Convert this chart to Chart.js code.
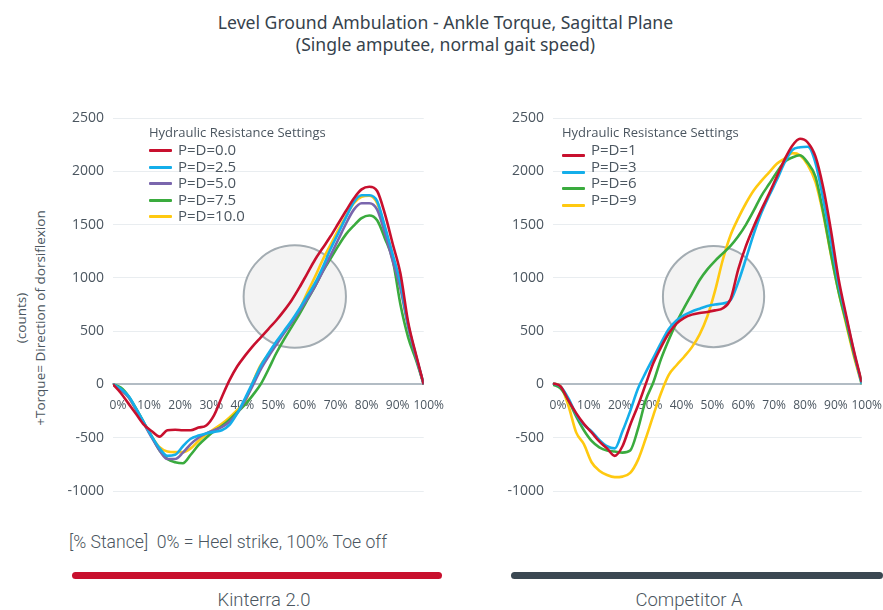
<!DOCTYPE html>
<html>
<head>
<meta charset="utf-8">
<script src="https://cdn.jsdelivr.net/npm/chart.js@4.4.1/dist/chart.umd.min.js"></script>
<style>
body { margin: 0; background: #fff; width: 883px; height: 610px; position: relative; overflow: hidden; font-family: 'Open Sans', sans-serif; color: #4b5660; }
#title { position: absolute; left: 0; width: 883px; top: 11px; text-align: center; font-family: 'Noto Sans', sans-serif; font-size: 17.6px; line-height: 22px; color: #36424c; padding-left: 4px; }
.wrap { position: absolute; }
.ytitle { position: absolute; left: 31px; top: 318px; width: 0; height: 0; }
.ytitle div { position: absolute; transform: translate(-50%, -50%) rotate(-90deg); white-space: nowrap; text-align: center; font-size: 13.5px; line-height: 19px; }
.legend { position: absolute; font-size: 15px; }
.legend .head { font-size: 13px; white-space: nowrap; height: 17px; line-height: 17px; }
.legend .row { height: 16.5px; line-height: 16.5px; white-space: nowrap; }
.legend .row span { display: inline-block; width: 23px; height: 3px; border-radius: 1px; vertical-align: middle; margin-right: 6px; }
#rightLegend .row span { position: relative; top: 5px; }
#note { position: absolute; left: 69px; top: 532px; font-family: Roboto, sans-serif; font-weight: 300; font-size: 17.6px; color: #4b5660; }
.bar { position: absolute; top: 572px; height: 7px; border-radius: 4px; }
.name { position: absolute; top: 589px; font-family: Roboto, sans-serif; font-weight: 300; font-size: 18.5px; color: #4b5660; text-align: center; width: 200px; }
</style>
</head>
<body>
<div id="title">Level Ground Ambulation - Ankle Torque, Sagittal Plane<br>(Single amputee, normal gait speed)</div>

<div class="ytitle"><div>(counts)<br>+Torque= Direction of dorsiflexion</div></div>

<div class="wrap" style="left:0;top:90px;width:445px;height:430px"><canvas id="leftChart"></canvas></div>
<div class="wrap" style="left:445px;top:90px;width:438px;height:430px"><canvas id="rightChart"></canvas></div>

<div class="legend" id="leftLegend" style="left:149px;top:124px"></div>
<div class="legend" id="rightLegend" style="left:562px;top:124px"></div>

<div id="note">[% Stance]&nbsp; 0% = Heel strike, 100% Toe off</div>
<div class="bar" style="left:72px;width:370px;background:#c8102e"></div>
<div class="bar" style="left:511px;width:372px;background:#3b4852"></div>
<div class="name" style="left:164px">Kinterra 2.0</div>
<div class="name" style="left:589px">Competitor A</div>

<script>
// % of stance, shared by every series
const stance = [0, 2.5, 5, 7.5, 10, 12.5, 15, 17.5, 20, 22.5, 25, 27.5, 30, 32.5, 35, 37.5, 40, 42.5, 45, 47.5,
                50, 52.5, 55, 57.5, 60, 62.5, 65, 67.5, 70, 72.5, 75, 77.5, 80, 82.5, 85, 87.5, 90, 92.5, 95, 97.5, 100];

// Kinterra 2.0
const kinterraLabels = ['P=D=0.0', 'P=D=2.5', 'P=D=5.0', 'P=D=7.5', 'P=D=10.0'];
const kin00 = [0, -80, -180, -280, -380, -440, -490, -430, -425, -430, -430, -405, -385, -290, -120, 40, 170, 270, 360, 440,
               520, 600, 690, 790, 910, 1040, 1170, 1280, 1390, 1510, 1630, 1745, 1830, 1855, 1815, 1600, 1320, 1040, 580, 280, 0];
const kin25 = [0, -40, -110, -230, -360, -490, -600, -670, -660, -580, -510, -480, -460, -445, -430, -380, -270, -130, 20, 170,
               290, 400, 500, 600, 710, 830, 950, 1100, 1270, 1420, 1570, 1710, 1775, 1775, 1720, 1480, 1220, 950, 560, 270, 0];
const kin50 = [0, -50, -120, -240, -370, -500, -620, -700, -700, -640, -560, -500, -460, -430, -400, -350, -270, -150, -10, 140,
               260, 370, 480, 580, 690, 800, 920, 1060, 1210, 1360, 1510, 1640, 1700, 1700, 1640, 1420, 1160, 900, 540, 260, 0];
const kin75 = [0, -30, -110, -230, -360, -490, -620, -700, -730, -740, -660, -570, -500, -440, -390, -330, -260, -190, -100, 0,
               140, 290, 420, 540, 660, 790, 920, 1060, 1180, 1300, 1410, 1490, 1560, 1585, 1540, 1370, 1170, 750, 440, 230, 0];
const kin100 = [0, -50, -120, -240, -370, -490, -590, -630, -635, -635, -600, -530, -470, -420, -370, -310, -240, -160, 20, 180,
                280, 380, 490, 590, 700, 860, 1010, 1170, 1310, 1450, 1580, 1700, 1760, 1770, 1700, 1470, 1200, 920, 550, 260, 0];

// Competitor A
const compLabels = ['P=D=1', 'P=D=3', 'P=D=6', 'P=D=9'];
const comp1 = [10, -20, -150, -270, -370, -450, -535, -600, -670, -580, -380, -200, 0, 200, 350, 480, 570, 625, 655, 670,
               680, 695, 715, 800, 1080, 1300, 1480, 1640, 1790, 1950, 2110, 2240, 2305, 2270, 2140, 1850, 1450, 990, 640, 310, 20];
const comp3 = [10, -20, -130, -280, -380, -440, -520, -580, -600, -440, -250, -40, 110, 250, 390, 520, 600, 650, 685, 710,
               735, 750, 760, 790, 960, 1180, 1410, 1610, 1770, 1920, 2080, 2200, 2225, 2230, 2080, 1740, 1350, 940, 620, 300, 0];
const comp6 = [0, -40, -150, -300, -430, -530, -590, -620, -630, -640, -620, -420, -150, 20, 240, 420, 580, 720, 850, 980,
               1080, 1160, 1230, 1300, 1390, 1500, 1630, 1770, 1880, 1990, 2090, 2130, 2150, 2080, 1950, 1620, 1230, 870, 580, 280, 20];
const comp9 = [10, -20, -200, -450, -560, -730, -810, -850, -870, -865, -830, -710, -510, -290, -80, 90, 180, 260, 350, 470,
               640, 880, 1170, 1400, 1560, 1700, 1820, 1910, 1990, 2070, 2120, 2170, 2150, 2060, 1900, 1600, 1220, 870, 560, 260, 0];

const yTicks = [-1000, -500, 0, 500, 1000, 1500, 2000, 2500];

const RED = '#c8102e', BLUE = '#14aeea', PURPLE = '#7a66ad', GREEN = '#3aab3e', YELLOW = '#ffc910';
const TEXT = '#4b5660';

function series(label, values, color) {
  return {
    label: label,
    data: stance.map((p, i) => ({ x: p, y: values[i] })),
    borderColor: color,
    borderWidth: 2.6,
    pointRadius: 0,
    fill: false,
    cubicInterpolationMode: 'monotone'
  };
}

// grey highlight circle, given in data units
const circlePlugin = {
  id: 'circle',
  beforeDatasetsDraw(chart, args, opts) {
    const xs = chart.scales.x, ys = chart.scales.y;
    const cx = xs.getPixelForValue(opts.x);
    const cy = ys.getPixelForValue(opts.y);
    const r = Math.abs(ys.getPixelForValue(0) - ys.getPixelForValue(opts.r));
    const ctx = chart.ctx;
    ctx.save();
    ctx.beginPath();
    ctx.arc(cx, cy, r, 0, Math.PI * 2);
    ctx.fillStyle = '#f3f3f3';
    ctx.fill();
    ctx.lineWidth = 2;
    ctx.strokeStyle = '#a3acb2';
    ctx.stroke();
    ctx.restore();
  }
};

function makeChart(id, datasets, axisWidth, circle) {
  const ctx = document.getElementById(id).getContext('2d');
  return new Chart(ctx, {
    type: 'line',
    data: { datasets: datasets },
    plugins: [circlePlugin],
    options: {
      responsive: true,
      maintainAspectRatio: false,
      animation: false,
      layout: { padding: { top: 28, bottom: 29, left: 0, right: 20 } },
      plugins: {
        legend: { display: false },
        tooltip: { enabled: false },
        circle: circle
      },
      scales: {
        x: {
          type: 'linear',
          position: { y: 0 },
          min: 0,
          max: 100,
          grid: { display: false },
          border: { color: '#b2bcc4', width: 2 },
          ticks: {
            stepSize: 10,
            padding: 6,
            labelOffset: 5,
            maxRotation: 0,
            minRotation: 0,
            autoSkip: false,
            color: TEXT,
            font: { family: 'Open Sans', size: 12 },
            callback: v => v + '%'
          }
        },
        y: {
          min: -1000,
          max: 2500,
          afterBuildTicks: s => { s.ticks = yTicks.map(v => ({ value: v })); },
          afterFit: s => { s.width = axisWidth; },
          grid: { color: '#e9edf0', lineWidth: 1, drawTicks: false },
          border: { display: false },
          ticks: {
            padding: 9,
            color: TEXT,
            font: { family: 'Open Sans', size: 14 },
            callback: v => String(v)
          }
        }
      }
    }
  });
}

makeChart('leftChart', [
  series(kinterraLabels[0], kin00, RED),
  series(kinterraLabels[1], kin25, BLUE),
  series(kinterraLabels[2], kin50, PURPLE),
  series(kinterraLabels[3], kin75, GREEN),
  series(kinterraLabels[4], kin100, YELLOW)
], 113, { x: 58.5, y: 825, r: 480 });

makeChart('rightChart', [
  series(compLabels[0], comp1, RED),
  series(compLabels[1], comp3, BLUE),
  series(compLabels[2], comp6, GREEN),
  series(compLabels[3], comp9, YELLOW)
], 108, { x: 52, y: 825, r: 475 });

function buildLegend(id, labels, colors) {
  const el = document.getElementById(id);
  let html = '<div class="head">Hydraulic Resistance Settings</div>';
  labels.forEach((l, i) => {
    html += '<div class="row"><span style="background:' + colors[i] + '"></span>' + l + '</div>';
  });
  el.innerHTML = html;
}
buildLegend('leftLegend', kinterraLabels, [RED, BLUE, PURPLE, GREEN, YELLOW]);
buildLegend('rightLegend', compLabels, [RED, BLUE, GREEN, YELLOW]);
</script>
</body>
</html>
